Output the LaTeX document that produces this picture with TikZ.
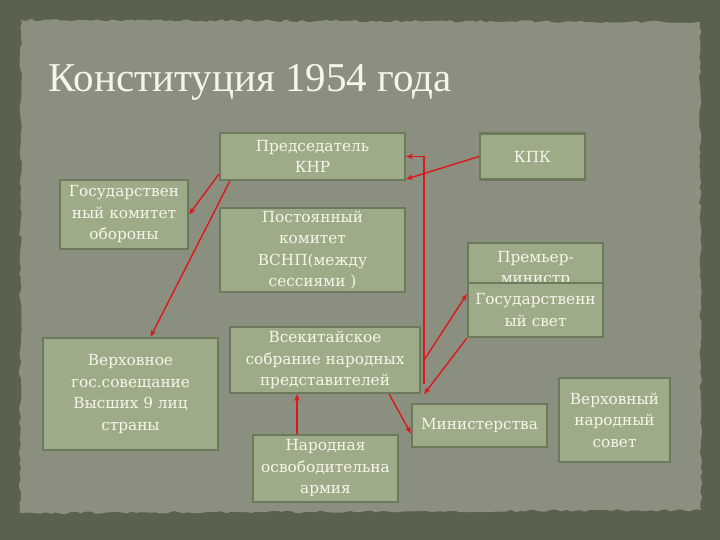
\documentclass[tikz,border=0pt]{standalone}
\usepackage{fontspec}
\setmainfont{DejaVu Serif}
\newfontfamily\titlefont{Liberation Serif}
\usetikzlibrary{decorations.pathmorphing,arrows.meta}

\definecolor{frame}{RGB}{90,98,78}
\definecolor{paper}{RGB}{139,143,128}
\definecolor{boxfill}{RGB}{158,171,136}
\definecolor{boxedge}{RGB}{108,122,92}
\definecolor{boxtext}{RGB}{246,245,234}
\definecolor{arrowred}{RGB}{222,22,30}

\begin{document}
\begin{tikzpicture}[x=1pt,y=-1pt,>={Stealth[length=7pt,width=5.5pt]},
  box/.style={draw=boxedge,fill=boxfill,line width=2.2pt,inner sep=0pt,
    text=boxtext,align=center,font=\fontsize{15.3}{21.5}\selectfont},
  link/.style={draw=arrowred,->,line width=1.4pt}]
\useasboundingbox (0,0) rectangle (720,540);
\fill[frame] (0,0) rectangle (720,540);
\fill[paper,decorate,decoration={random steps,segment length=5pt,amplitude=1.3pt}]
  (21,20) -- (700,22) -- (701,510) -- (20,513) -- cycle;

\node[anchor=base west,text=boxtext,font=\titlefont\fontsize{41}{41}\selectfont] (title) at (45,92) {Конституция 1954 года};

\node[box,minimum width=185,minimum height=47] (1) at (312.5,156.5) {Председатель\\КНР};
\node[box,minimum width=105,minimum height=46] (2) at (532.5,156.5) {КПК};
\node[box,minimum width=128,minimum height=69] (3) at (124,214.5) {Государствен\\ный комитет\\обороны};
\node[box,minimum width=185,minimum height=84] (4) at (312.5,250) {Постоянный\\комитет\\ВСНП(между\\сессиями )};
\node[box,minimum width=135,minimum height=52] (5) at (535.5,269) {Премьер-\\министр};
\node[box,minimum width=135,minimum height=54] (6) at (535.5,310) {Государственн\\ый свет};
\node[box,minimum width=175,minimum height=112] (7) at (130.5,394) {Верховное\\гос.совещание\\Высших 9 лиц\\страны};
\node[box,minimum width=190,minimum height=66] (8) at (325,360) {Всекитайское\\собрание народных\\представителей};
\node[box,minimum width=135,minimum height=43] (9) at (479.5,425.5) {Министерства};
\node[box,minimum width=111,minimum height=84] (10) at (614.5,420) {Верховный\\народный\\совет};
\node[box,minimum width=145,minimum height=67] (11) at (325.5,468.5) {Народная\\освободительна\\армия};

\path[link] ([yshift=7pt]1.south west) -- (3.east);
\path[link] ([xshift=11pt]1.south west) -- ([xshift=20pt]7.north);
\path[link] (2.west) -- ([yshift=2pt]1.south east);
\path[link] ([xshift=3pt,yshift=10pt]8.south east) |- (1.east);
\path[link] ([xshift=3pt]8.east) -- ([yshift=16pt]6.west);
\path[link] (6.south west) -- ([xshift=3pt]8.south east);
\path[link] ([xshift=-32pt]8.south east) -- ([yshift=-8pt]9.west);
\path[link] ([xshift=-28.5pt]11.north) -- ([xshift=-28pt]8.south);
\end{tikzpicture}
\end{document}
